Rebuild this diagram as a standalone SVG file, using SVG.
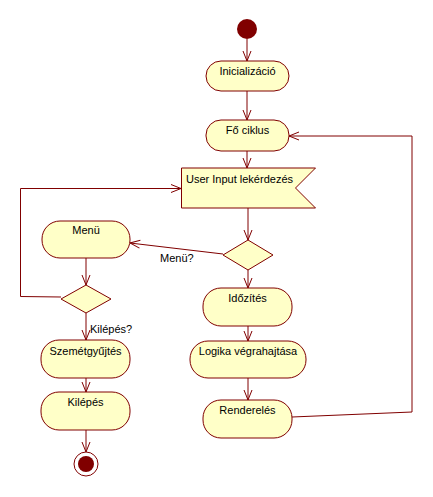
<svg xmlns="http://www.w3.org/2000/svg" width="433" height="497" viewBox="0 0 433 497">
<defs>
<style>
.n{fill:#ffffc8;stroke:#800000;stroke-width:1}
.t{font-family:"Liberation Sans",Arial,sans-serif;font-size:11px;fill:#000;text-anchor:middle}
.l{font-family:"Liberation Sans",Arial,sans-serif;font-size:11px;fill:#000}
.c{fill:none;stroke:#800000;stroke-width:1;marker-end:url(#a)}
</style>
<marker id="a" markerUnits="userSpaceOnUse" markerWidth="12" markerHeight="10" refX="11" refY="5" orient="auto" viewBox="0 0 12 10">
<path d="M1,1 L11,5 L1,9" fill="none" stroke="#800000" stroke-width="1"/>
</marker>
</defs>
<rect width="433" height="497" fill="#fff"/>
<g id="connectors">
<line class="c" x1="247" y1="39" x2="247" y2="61"/>
<line class="c" x1="247" y1="91" x2="247" y2="120"/>
<line class="c" x1="247" y1="151" x2="247" y2="168"/>
<line class="c" x1="248" y1="208" x2="248" y2="240"/>
<line class="c" x1="248" y1="270" x2="248" y2="288"/>
<line class="c" x1="248" y1="326" x2="248" y2="341"/>
<line class="c" x1="248" y1="378" x2="248" y2="400"/>
<polyline class="c" points="292,417 412,412 412,136 289,136"/>
<line class="c" x1="223" y1="254" x2="130" y2="243"/>
<line class="c" x1="86" y1="258" x2="86" y2="285"/>
<polyline class="c" points="61,297 20.5,296.5 20.5,188.5 181,188.5"/>
<line class="c" x1="86" y1="313" x2="86" y2="340"/>
<line class="c" x1="86" y1="378" x2="86" y2="392"/>
<line class="c" x1="86" y1="430" x2="86" y2="452"/>
<text class="l" x="160" y="262">Menü?</text>
<text class="l" x="90" y="333">Kilépés?</text>
</g>
<g id="start"><circle cx="247" cy="29" r="10" fill="#800000"/></g>
<g id="inicializacio"><rect class="n" x="206" y="61" width="83" height="30" rx="15"/><text class="t" x="247.5" y="75">Inicializáció</text></g>
<g id="fociklus"><rect class="n" x="206" y="120" width="83" height="31" rx="15"/><text class="t" x="247.5" y="134">Fő ciklus</text></g>
<g id="userinput"><polygon class="n" points="181.5,168 315.5,168 295.5,188 315.5,208 181.5,208"/><text class="l" x="186" y="183">User Input lekérdezés</text></g>
<g id="dontes1"><polygon class="n" points="248,240 273,255 248,270 223,255"/></g>
<g id="menu"><rect class="n" x="42" y="221" width="88" height="37" rx="18"/><text class="t" x="86" y="234">Menü</text></g>
<g id="dontes2"><polygon class="n" points="86,285 111,299 86,313 61,299"/></g>
<g id="szemetgyujtes"><rect class="n" x="41" y="340" width="89" height="38" rx="18"/><text class="t" x="85.5" y="355">Szemétgyűjtés</text></g>
<g id="kilepes"><rect class="n" x="41" y="392" width="89" height="38" rx="18"/><text class="t" x="85.5" y="406">Kilépés</text></g>
<g id="end"><circle cx="86" cy="464" r="12" fill="#fff" stroke="#800000" stroke-width="1"/><circle cx="86" cy="464" r="8" fill="#800000"/></g>
<g id="idozites"><rect class="n" x="203" y="288" width="89" height="38" rx="18"/><text class="t" x="247.5" y="302">Időzítés</text></g>
<g id="logika"><rect class="n" x="190" y="341" width="116" height="37" rx="18"/><text class="t" x="248" y="355">Logika végrahajtása</text></g>
<g id="rendereles"><rect class="n" x="203" y="400" width="89" height="38" rx="18"/><text class="t" x="247.5" y="414">Renderelés</text></g>
</svg>
